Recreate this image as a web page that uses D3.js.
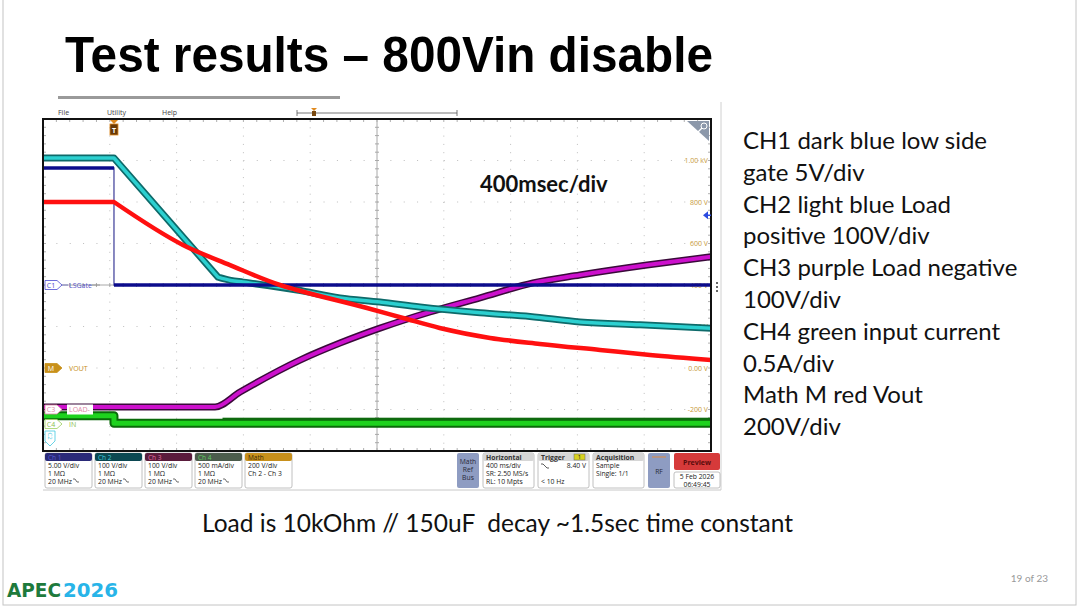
<!DOCTYPE html>
<html><head><meta charset="utf-8">
<script src="https://cdn.jsdelivr.net/npm/d3@7"></script>
<style>body{margin:0;background:#fff}svg{display:block}text{white-space:pre}</style>
</head><body><svg id="c" width="1080" height="607"></svg>
<script>
// ---------------- DATA ----------------
// time in seconds relative to trigger, 400 ms/div
const timeCH1 = [-0.425, 0, 0, 3.575];
const ch1Gate = [14.1, 14.1, 0, 0];                 // V, 5 V/div
const timeCH2 = [-0.425, 0, 0.623, 0.700, 0.773, 1.096, 1.353, 1.593, 1.832, 2.192, 2.491, 2.790, 3.150, 3.575];
const ch2LoadPos = [806, 806, 519, 511, 507, 488, 469, 459, 447, 433, 424, 411, 404, 396]; // V, 100 V/div
const timeCH3 = [-0.425, 0.605, 0.755, 1.114, 1.353, 1.593, 1.892, 2.192, 2.509, 2.790, 3.192, 3.575];
const ch3LoadNeg = [6, 6, 42, 119, 160, 196, 235, 269, 305, 324, 348, 368];          // V, 100 V/div
const timeCH4 = [-0.425, 0, 0, 3.575];
const ch4Iin = [0.1, 0.1, 0.01, 0.01];               // A, 0.5 A/div
const timeMath = [-0.425, 0, 0.413, 0.695, 0.994, 1.096, 1.515, 1.731, 1.95, 2.252, 2.55, 2.910, 3.21, 3.575];
const mathVout = [800, 800, 593, 496, 400, 376, 289, 241, 193, 145, 116, 87, 63, 39]; // V, 200 V/div
const mathTickValues = [1000, 800, 600, 400, 200, 0, -200];
const mathTickLabels = ["1.00 kV", "800 V", "600 V", "400 V", "200 V", "0.00 V", "-200 V"];
const noteLines = ["CH1 dark blue low side", "gate 5V/div", "CH2 light blue Load", "positive 100V/div",
  "CH3 purple Load negative", "100V/div", "CH4 green input current", "0.5A/div", "Math M red Vout", "200V/div"];
const chanBoxes = [
  {name:"Ch 1", lines:["5.00 V/div","1 MΩ","20 MHz"]},
  {name:"Ch 2", lines:["100 V/div","1 MΩ","20 MHz"]},
  {name:"Ch 3", lines:["100 V/div","1 MΩ","20 MHz"]},
  {name:"Ch 4", lines:["500 mA/div","1 MΩ","20 MHz"]},
  {name:"Math", lines:["200 V/div","Ch 2 - Ch 3"]}
];

// ---------------- LAYOUT ----------------
const svg = d3.select("#c");
const L = 43, R = 711, T = 119, B = 451;
const x = d3.scaleLinear().domain([-0.425, 3.575]).range([L, R]);
const yDiv = d3.scaleLinear().domain([-4, 4]).range([B, T]);
const chan = (perDiv, pos) => v => yDiv(v / perDiv + pos);
const yCH1 = chan(5, 0), yCH2 = chan(100, -5), yCH3 = chan(100, -3), yCH4 = chan(0.5, -3.35), yM = chan(200, -2);
const sans = "Lato, 'Open Sans', sans-serif";
const scopeFont = "'Open Sans', 'DejaVu Sans', sans-serif";

// slide frame
svg.append("rect").attr("x",3).attr("y",-2).attr("width",1073).attr("height",607).attr("fill","none").attr("stroke","#c4c4c4");

// title
svg.append("text").attr("x",65).attr("y",72).attr("font-family","'Liberation Sans', Arial, sans-serif")
  .attr("font-weight","bold").attr("font-size",50).attr("textLength",648).attr("lengthAdjust","spacingAndGlyphs")
  .text("Test results – 800Vin disable");
svg.append("rect").attr("x",58).attr("y",96).attr("width",282).attr("height",3).attr("fill","#9a9a9a");

// scope window outline
svg.append("line").attr("x1",721).attr("x2",721).attr("y1",102).attr("y2",490).attr("stroke","#d0d0d0");
svg.append("line").attr("x1",43).attr("x2",721).attr("y1",490).attr("y2",490).attr("stroke","#c8c8c8");

// menu
[["File",58],["Utility",107],["Help",162]].forEach(([t,px])=>{
  svg.append("text").attr("x",px).attr("y",115).attr("font-family",scopeFont).attr("font-size",7).attr("fill","#444").text(t);
});
// record ruler
const rg = svg.append("g").attr("stroke","#555").attr("stroke-width",0.8);
rg.append("line").attr("x1",297).attr("x2",457).attr("y1",113).attr("y2",113);
rg.append("line").attr("x1",297).attr("x2",297).attr("y1",110).attr("y2",116);
rg.append("line").attr("x1",457).attr("x2",457).attr("y1",110).attr("y2",116);
svg.append("path").attr("d","M311,108 h6 l-3,3 z").attr("fill","#e08a20");
svg.append("rect").attr("x",312).attr("y",111).attr("width",4).attr("height",5).attr("fill","#7a4a10");

// grid
const grid = svg.append("g");
const divX = (R - L) / 10, divY = (B - T) / 8;
for (let i = 1; i < 10; i++) {
  if (i === 5) continue;
  grid.append("line").attr("x1",L+i*divX).attr("x2",L+i*divX).attr("y1",T).attr("y2",B)
    .attr("stroke","#bdbdbd").attr("stroke-width",1).attr("stroke-dasharray",`1 ${divY/5-1}`);
}
for (let j = 1; j < 8; j++) {
  if (j === 4) continue;
  grid.append("line").attr("y1",T+j*divY).attr("y2",T+j*divY).attr("x1",L).attr("x2",R)
    .attr("stroke","#bdbdbd").attr("stroke-width",1).attr("stroke-dasharray",`1 ${divX/5-1}`);
}
// center cross with minor ticks
const cx = L + 5 * divX, cy = T + 4 * divY;
grid.append("line").attr("x1",cx).attr("x2",cx).attr("y1",T).attr("y2",B).attr("stroke","#a8a8a8");
grid.append("line").attr("x1",L).attr("x2",R).attr("y1",cy).attr("y2",cy).attr("stroke","#a8a8a8");
for (let k = 1; k < 50; k++) {
  const px = L + k * divX / 5;
  grid.append("line").attr("x1",px).attr("x2",px).attr("y1",cy-2).attr("y2",cy+2).attr("stroke","#a8a8a8");
  grid.append("line").attr("x1",px).attr("x2",px).attr("y1",T).attr("y2",T+3).attr("stroke","#b0b0b0");
  grid.append("line").attr("x1",px).attr("x2",px).attr("y1",B-3).attr("y2",B).attr("stroke","#b0b0b0");
}
for (let k = 1; k < 40; k++) {
  const py = T + k * divY / 5;
  grid.append("line").attr("y1",py).attr("y2",py).attr("x1",cx-2).attr("x2",cx+2).attr("stroke","#a8a8a8");
  grid.append("line").attr("y1",py).attr("y2",py).attr("x1",L).attr("x2",L+3).attr("stroke","#b0b0b0");
  grid.append("line").attr("y1",py).attr("y2",py).attr("x1",R-3).attr("x2",R).attr("stroke","#b0b0b0");
}

// math scale labels
svg.append("g").selectAll("text").data(mathTickValues).join("text")
  .attr("x",708).attr("y",(d)=>yM(d)+2.5).attr("text-anchor","end").attr("font-family",scopeFont)
  .attr("font-size",7).attr("fill","#c89a3a").text((d,i)=>mathTickLabels[i]);

// traces
svg.append("clipPath").attr("id","clip").append("rect").attr("x",L).attr("y",T).attr("width",R-L).attr("height",B-T);
const tr = svg.append("g").attr("clip-path","url(#clip)");
const pts = (ts, vs) => ts.map((t,i)=>[t, vs[i]]);
// flat pre-trigger part drawn straight, the decay drawn with a monotone curve starting at the kink
function pathD(data, yf, curve, kinkIdx) {
  const lin = d3.line().x(d=>x(d[0])).y(d=>yf(d[1]));
  if (kinkIdx == null) return d3.line().x(d=>x(d[0])).y(d=>yf(d[1])).curve(curve)(data);
  const a = lin(data.slice(0, kinkIdx + 1));
  const b = d3.line().x(d=>x(d[0])).y(d=>yf(d[1])).curve(curve)(data.slice(kinkIdx));
  return a + "L" + b.slice(1);
}
function trace(ts, vs, yf, curve, kinkIdx, outer, outerW, inner, innerW) {
  const d = pathD(pts(ts, vs), yf, curve, kinkIdx);
  if (outer) tr.append("path").attr("d",d).attr("fill","none").attr("stroke",outer).attr("stroke-width",outerW).attr("stroke-linejoin","round");
  tr.append("path").attr("d",d).attr("fill","none").attr("stroke",inner).attr("stroke-width",innerW).attr("stroke-linejoin","round");
}
// CH4 green
trace(timeCH4, ch4Iin, yCH4, d3.curveLinear, null, "#0a6a0a", 9, "#1ed21e", 5);
tr.append("rect").attr("x",x(0.65)).attr("y",yCH4(0.01)-5.5).attr("width",R-x(0.65)).attr("height",2.5).attr("fill","#0e6a0e");
// CH3 purple
trace(timeCH3, ch3LoadNeg, yCH3, d3.curveMonotoneX, null, "#3a0a3a", 7, "#cc10cc", 4);
// CH2 cyan (straight ramp, then monotone tail)
trace(timeCH2, ch2LoadPos, yCH2, d3.curveMonotoneX, 2, "#0e6a6a", 7, "#2cd0d0", 3.5);
// CH1 blue: thin vertical edge, thick levels
const g1 = d3.line().x(d=>x(d[0])).y(d=>yCH1(d[1]));
const d1 = pts(timeCH1, ch1Gate);
tr.append("path").attr("d",g1(d1)).attr("fill","none").attr("stroke","#4a4aa0").attr("stroke-width",1.3);
d3.pairs(d1).filter(([a,b])=>b[0]>a[0]).forEach(seg=>{
  tr.append("path").attr("d",g1(seg)).attr("fill","none").attr("stroke","#0c0c8c").attr("stroke-width",3.5);
});
// Math red
trace(timeMath, mathVout, yM, d3.curveMonotoneX, 1, null, 0, "#ff1010", 4.5);

// frame
svg.append("rect").attr("x",L).attr("y",T).attr("width",R-L).attr("height",B-T).attr("fill","none").attr("stroke","#111").attr("stroke-width",2);

// trigger marker at top
svg.append("path").attr("d",`M${x(0)-4},${T+1} h8 l-4,4 z`).attr("fill","#e08a20");
svg.append("rect").attr("x",x(0)-4).attr("y",T+5).attr("width",8).attr("height",11).attr("fill","#6a3a08").attr("stroke","#e08a20").attr("stroke-width",0.8);
svg.append("text").attr("x",x(0)).attr("y",T+13.5).attr("text-anchor","middle").attr("font-family",scopeFont).attr("font-size",7).attr("font-weight","bold").attr("fill","#fff").text("T");
// trigger level arrow
svg.append("path").attr("d",`M${R-8},${yCH1(8.4)} l5,-4 v8 z`).attr("fill","#2a4ae0");
svg.append("line").attr("x1",R-4).attr("x2",R).attr("y1",yCH1(8.4)).attr("y2",yCH1(8.4)).attr("stroke","#2a4ae0").attr("stroke-width",1.5);
// magnifier corner
svg.append("path").attr("d",`M${R-24},${T+2} H${R-2} V${T+22} Z`).attr("fill","#8c98aa");
svg.append("circle").attr("cx",R-7).attr("cy",T+7).attr("r",3).attr("fill","none").attr("stroke","#fff").attr("stroke-width",1);
svg.append("line").attr("x1",R-9).attr("y1",T+9).attr("x2",R-13).attr("y2",T+13).attr("stroke","#fff").attr("stroke-width",1.2);
// side dots
[283,287,291].forEach(py=>svg.append("circle").attr("cx",717).attr("cy",py).attr("r",1).attr("fill","#333"));

// 400msec/div
svg.append("text").attr("x",480).attr("y",192).attr("font-family",sans).attr("font-weight","bold").attr("font-size",22).attr("fill","#111").text("400msec/div");

// channel markers on left
function marker(yc, label, stroke, fill, txtColor, name, nameColor, bg) {
  const g = svg.append("g");
  g.append("path").attr("d",`M45,${yc-4.5} h12 l5,4.5 l-5,4.5 h-12 z`).attr("fill",fill).attr("stroke",stroke).attr("stroke-width",0.8);
  g.append("text").attr("x",51).attr("y",yc+2.5).attr("text-anchor","middle").attr("font-family",scopeFont).attr("font-size",7).attr("fill",txtColor).text(label);
  if (bg) g.append("rect").attr("x",67).attr("y",yc-5).attr("width",26).attr("height",10).attr("fill","#fff");
  g.append("text").attr("x",69).attr("y",yc+2.5).attr("font-family",scopeFont).attr("font-size",7).attr("fill",nameColor).text(name);
}
marker(yCH1(0), "C1", "#4a4ad0", "#fff", "#4a4ad0", "LSGate", "#5050c8", false);
svg.append("line").attr("x1",62).attr("x2",68).attr("y1",yCH1(0)).attr("y2",yCH1(0)).attr("stroke","#6a6ac0").attr("stroke-width",0.8);
svg.append("line").attr("x1",92).attr("x2",100).attr("y1",yCH1(0)).attr("y2",yCH1(0)).attr("stroke","#888").attr("stroke-width",0.8);
marker(yM(0), "M", "#c8901a", "#c8901a", "#fff", "VOUT", "#c8901a", false);
marker(yCH3(0), "C3", "#e088a8", "#fff", "#e088a8", "LOAD-", "#e088a8", true);
marker(yCH4(0), "C4", "#9ccf60", "#fff", "#8cc050", "IN", "#8cc050", false);
// C2 marker (offset below screen)
svg.append("path").attr("d",`M45,431 h10 v10 l-5,5 l-5,-5 z`).attr("fill","#fff").attr("stroke","#40c8e0").attr("stroke-width",0.8);
svg.append("text").attr("transform","translate(50,436) rotate(90)").attr("text-anchor","middle").attr("font-family",scopeFont).attr("font-size",6).attr("fill","#40c8e0").attr("dy","2").text("C2");

// ---------------- status bar ----------------
const hdrColors = ["#2a2a78","#0c4852","#5a1c3c","#4c5c4c","#c8901c"];
const hdrText = ["#5a5ad0","#40c8d8","#e070a0","#60d060","#3a2a08"];
chanBoxes.forEach((b,i)=>{
  const bx = 45 + i*50, g = svg.append("g");
  g.append("rect").attr("x",bx).attr("y",453).attr("width",47).attr("height",35).attr("rx",2).attr("fill","#fff").attr("stroke","#b0b0b0").attr("stroke-width",0.8);
  g.append("rect").attr("x",bx).attr("y",453).attr("width",47).attr("height",8).attr("rx",2).attr("fill",hdrColors[i]);
  g.append("text").attr("x",bx+3).attr("y",459.5).attr("font-family",scopeFont).attr("font-size",6.5).attr("fill",hdrText[i]).text(b.name);
  b.lines.forEach((t,k)=>{
    g.append("text").attr("x",bx+3).attr("y",468+k*8).attr("font-family",scopeFont).attr("font-size",6.8).attr("fill","#222").text(t);
    if (t==="20 MHz") g.append("path").attr("d",`M${bx+28},${463+k*8} l2,0 l2,3 l2,0`).attr("fill","none").attr("stroke","#333").attr("stroke-width",0.7);
  });
});
function button(bx, bw, lines, ys) {
  svg.append("rect").attr("x",bx).attr("y",453).attr("width",bw).attr("height",35).attr("rx",2).attr("fill","#8e9cc2");
  lines.forEach((t,k)=>svg.append("text").attr("x",bx+bw/2).attr("y",ys[k]).attr("text-anchor","middle").attr("font-family",scopeFont).attr("font-size",6.8).attr("fill","#2a2a3a").text(t));
}
button(457, 22, ["Math","Ref","Bus"], [464,472,480]);
button(648, 22, ["RF"], [474]);
svg.append("line").attr("x1",652).attr("x2",666).attr("y1",457).attr("y2",457).attr("stroke","#e08a40").attr("stroke-width",1);
function infoBox(bx, title, lines) {
  const g = svg.append("g");
  g.append("rect").attr("x",bx).attr("y",453).attr("width",51).attr("height",35).attr("rx",2).attr("fill","#fff").attr("stroke","#b0b0b0").attr("stroke-width",0.8);
  g.append("rect").attr("x",bx).attr("y",453).attr("width",51).attr("height",8).attr("rx",2).attr("fill","#d6d6d6");
  g.append("text").attr("x",bx+3).attr("y",459.5).attr("font-family",scopeFont).attr("font-size",6.8).attr("font-weight","bold").attr("fill","#333").text(title);
  lines.forEach((t,k)=>{ if (t) g.append("text").attr("x",bx+3).attr("y",468+k*8).attr("font-family",scopeFont).attr("font-size",6.8).attr("fill","#222").text(t); });
  return g;
}
infoBox(483, "Horizontal", ["400 ms/div","SR: 2.50 MS/s","RL: 10 Mpts"]);
const tg = infoBox(538, "Trigger", ["", "", "< 10 Hz"]);
tg.append("rect").attr("x",574).attr("y",454).attr("width",11).attr("height",6).attr("fill","#d8d020").attr("stroke","#666").attr("stroke-width",0.5);
tg.append("text").attr("x",579.5).attr("y",459.3).attr("text-anchor","middle").attr("font-family",scopeFont).attr("font-size",6).attr("fill","#222").text("1");
tg.append("path").attr("d","M541,464 h2 l4,4 h2").attr("fill","none").attr("stroke","#333").attr("stroke-width",0.8);
tg.append("text").attr("x",586).attr("y",468).attr("text-anchor","end").attr("font-family",scopeFont).attr("font-size",6.8).attr("fill","#222").text("8.40 V");
infoBox(593, "Acquisition", ["Sample","Single: 1/1"]);
svg.append("rect").attr("x",674).attr("y",453).attr("width",46).attr("height",17).attr("rx",2).attr("fill","#d63a3a");
svg.append("text").attr("x",697).attr("y",464.5).attr("text-anchor","middle").attr("font-family",scopeFont).attr("font-size",7).attr("font-weight","bold").attr("fill","#5a0c0c").text("Preview");
svg.append("rect").attr("x",674).attr("y",472).attr("width",46).attr("height",16).attr("rx",2).attr("fill","#fff").attr("stroke","#b0b0b0").attr("stroke-width",0.8);
svg.append("text").attr("x",697).attr("y",479).attr("text-anchor","middle").attr("font-family",scopeFont).attr("font-size",6.8).attr("fill","#222").text("5 Feb 2026");
svg.append("text").attr("x",697).attr("y",486.5).attr("text-anchor","middle").attr("font-family",scopeFont).attr("font-size",6.8).attr("fill","#222").text("06:49:45");

// ---------------- notes ----------------
svg.append("g").selectAll("text").data(noteLines).join("text")
  .attr("x",743).attr("y",(d,i)=>149+i*31.8).attr("font-family",sans).attr("font-size",24).attr("fill","#111").text(d=>d);
svg.append("text").attr("x",202).attr("y",532).attr("font-family",sans).attr("font-size",24.5).attr("fill","#111")
  .text("Load is 10kOhm // 150uF  decay ~1.5sec time constant");

// footer
svg.append("text").attr("x",1048).attr("y",582).attr("text-anchor","end").attr("font-family",sans).attr("font-size",10).attr("fill","#999").text("19 of 23");
svg.append("text").attr("x",7).attr("y",597).attr("font-family","'DejaVu Sans', sans-serif").attr("font-weight","bold").attr("font-size",19)
  .attr("textLength",54).attr("lengthAdjust","spacingAndGlyphs").attr("fill","#1e7a3c").text("APEC");
svg.append("text").attr("x",63).attr("y",597).attr("font-family","'DejaVu Sans', sans-serif").attr("font-weight","bold").attr("font-size",19)
  .attr("textLength",55).attr("lengthAdjust","spacingAndGlyphs").attr("fill","#28b4e8").text("2026");
</script></body></html>
